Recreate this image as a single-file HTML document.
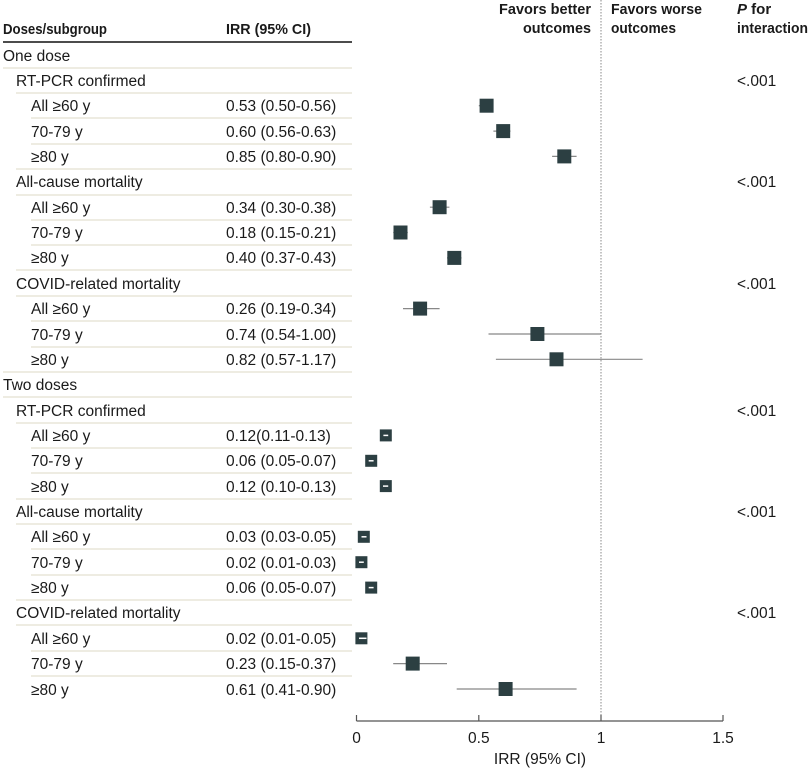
<!DOCTYPE html>
<html><head><meta charset="utf-8"><style>
html,body{margin:0;padding:0;background:#fff}
svg{display:block}
text{font-family:"Liberation Sans",sans-serif;font-size:15.5px;fill:#1a1a1a}
text.b{font-weight:bold;font-size:15px}
</style></head><body>
<svg width="810" height="770" viewBox="0 0 810 770" xmlns="http://www.w3.org/2000/svg">
<text class="b" x="3" y="34" textLength="104" lengthAdjust="spacingAndGlyphs">Doses/subgroup</text>
<text class="b" x="226" y="34" textLength="85" lengthAdjust="spacingAndGlyphs">IRR (95% CI)</text>
<line x1="3" y1="42" x2="352" y2="42" stroke="#111" stroke-width="1.5"/>
<text class="b" x="499" y="14" textLength="92" lengthAdjust="spacingAndGlyphs">Favors better</text>
<text class="b" x="523" y="33" textLength="68" lengthAdjust="spacingAndGlyphs">outcomes</text>
<text class="b" x="611" y="14" textLength="91" lengthAdjust="spacingAndGlyphs">Favors worse</text>
<text class="b" x="611" y="33" textLength="65" lengthAdjust="spacingAndGlyphs">outcomes</text>
<text class="b" x="737" y="14"><tspan font-style="italic">P</tspan> for</text>
<text class="b" x="737" y="33" textLength="71" lengthAdjust="spacingAndGlyphs">interaction</text>
<line x1="601" y1="0" x2="601" y2="721" stroke="#888" stroke-width="1" stroke-dasharray="1.5,1.5"/>
<g stroke="#dcd8c4" stroke-width="1">
<line x1="3" y1="68" x2="352" y2="68"/>
<line x1="16" y1="93" x2="352" y2="93"/>
<line x1="31" y1="118" x2="352" y2="118"/>
<line x1="31" y1="144" x2="352" y2="144"/>
<line x1="16" y1="169" x2="352" y2="169"/>
<line x1="16" y1="195" x2="352" y2="195"/>
<line x1="31" y1="220" x2="352" y2="220"/>
<line x1="31" y1="245" x2="352" y2="245"/>
<line x1="16" y1="270" x2="352" y2="270"/>
<line x1="16" y1="296" x2="352" y2="296"/>
<line x1="31" y1="321" x2="352" y2="321"/>
<line x1="31" y1="347" x2="352" y2="347"/>
<line x1="3" y1="372" x2="352" y2="372"/>
<line x1="3" y1="397" x2="352" y2="397"/>
<line x1="16" y1="423" x2="352" y2="423"/>
<line x1="31" y1="448" x2="352" y2="448"/>
<line x1="31" y1="473" x2="352" y2="473"/>
<line x1="16" y1="499" x2="352" y2="499"/>
<line x1="16" y1="524" x2="352" y2="524"/>
<line x1="31" y1="549" x2="352" y2="549"/>
<line x1="31" y1="575" x2="352" y2="575"/>
<line x1="16" y1="600" x2="352" y2="600"/>
<line x1="16" y1="625" x2="352" y2="625"/>
<line x1="31" y1="651" x2="352" y2="651"/>
<line x1="31" y1="676" x2="352" y2="676"/>
</g>
<text x="3" y="61">One dose</text>
<text x="16" y="86">RT-PCR confirmed</text>
<text x="31" y="111">All ≥60 y</text><text x="226" y="111">0.53 (0.50-0.56)</text>
<text x="31" y="137">70-79 y</text><text x="226" y="137">0.60 (0.56-0.63)</text>
<text x="31" y="162">≥80 y</text><text x="226" y="162">0.85 (0.80-0.90)</text>
<text x="16" y="187">All-cause mortality</text>
<text x="31" y="213">All ≥60 y</text><text x="226" y="213">0.34 (0.30-0.38)</text>
<text x="31" y="238">70-79 y</text><text x="226" y="238">0.18 (0.15-0.21)</text>
<text x="31" y="263">≥80 y</text><text x="226" y="263">0.40 (0.37-0.43)</text>
<text x="16" y="289">COVID-related mortality</text>
<text x="31" y="314">All ≥60 y</text><text x="226" y="314">0.26 (0.19-0.34)</text>
<text x="31" y="340">70-79 y</text><text x="226" y="340">0.74 (0.54-1.00)</text>
<text x="31" y="365">≥80 y</text><text x="226" y="365">0.82 (0.57-1.17)</text>
<text x="3" y="390">Two doses</text>
<text x="16" y="416">RT-PCR confirmed</text>
<text x="31" y="441">All ≥60 y</text><text x="226" y="441">0.12(0.11-0.13)</text>
<text x="31" y="466">70-79 y</text><text x="226" y="466">0.06 (0.05-0.07)</text>
<text x="31" y="492">≥80 y</text><text x="226" y="492">0.12 (0.10-0.13)</text>
<text x="16" y="517">All-cause mortality</text>
<text x="31" y="542">All ≥60 y</text><text x="226" y="542">0.03 (0.03-0.05)</text>
<text x="31" y="568">70-79 y</text><text x="226" y="568">0.02 (0.01-0.03)</text>
<text x="31" y="593">≥80 y</text><text x="226" y="593">0.06 (0.05-0.07)</text>
<text x="16" y="618">COVID-related mortality</text>
<text x="31" y="644">All ≥60 y</text><text x="226" y="644">0.02 (0.01-0.05)</text>
<text x="31" y="669">70-79 y</text><text x="226" y="669">0.23 (0.15-0.37)</text>
<text x="31" y="695">≥80 y</text><text x="226" y="695">0.61 (0.41-0.90)</text>
<text x="737" y="86">&lt;.001</text>
<text x="737" y="187">&lt;.001</text>
<text x="737" y="289">&lt;.001</text>
<text x="737" y="416">&lt;.001</text>
<text x="737" y="517">&lt;.001</text>
<text x="737" y="618">&lt;.001</text>
<g stroke="#888" stroke-width="1.2">
<line x1="478.8" y1="105.7" x2="493.4" y2="105.7"/>
<line x1="493.4" y1="131.1" x2="510.5" y2="131.1"/>
<line x1="552.1" y1="156.4" x2="576.6" y2="156.4"/>
<line x1="429.9" y1="207.2" x2="449.4" y2="207.2"/>
<line x1="393.2" y1="232.5" x2="407.8" y2="232.5"/>
<line x1="447" y1="257.9" x2="461.6" y2="257.9"/>
<line x1="403" y1="308.6" x2="439.6" y2="308.6"/>
<line x1="488.5" y1="334" x2="601" y2="334"/>
<line x1="495.9" y1="359.3" x2="642.6" y2="359.3"/>
<line x1="393.2" y1="663.6" x2="447" y2="663.6"/>
<line x1="456.7" y1="689" x2="576.6" y2="689"/>
</g>
<g fill="#2c3f42">
<rect x="479.6" y="98.7" width="14" height="14"/>
<rect x="496.2" y="124.1" width="14" height="14"/>
<rect x="557.3" y="149.4" width="14" height="14"/>
<rect x="432.6" y="200.2" width="14" height="14"/>
<rect x="393.5" y="225.5" width="14" height="14"/>
<rect x="447.3" y="250.9" width="14" height="14"/>
<rect x="413.1" y="301.6" width="14" height="14"/>
<rect x="530.4" y="327" width="14" height="14"/>
<rect x="549.5" y="352.3" width="14" height="14"/>
<rect x="379.8" y="429.4" width="12" height="12"/>
<rect x="365.2" y="454.8" width="12" height="12"/>
<rect x="379.8" y="480.1" width="12" height="12"/>
<rect x="357.8" y="530.8" width="12" height="12"/>
<rect x="355.4" y="556.2" width="12" height="12"/>
<rect x="365.2" y="581.6" width="12" height="12"/>
<rect x="355.4" y="632.3" width="12" height="12"/>
<rect x="405.7" y="656.6" width="14" height="14"/>
<rect x="498.6" y="682" width="14" height="14"/>
</g>
<g stroke="#fff" stroke-width="1.5">
<line x1="383.4" y1="435.4" x2="388.2" y2="435.4"/>
<line x1="368.7" y1="460.8" x2="373.6" y2="460.8"/>
<line x1="383" y1="486.1" x2="388.2" y2="486.1"/>
<line x1="361.5" y1="536.8" x2="366.5" y2="536.8"/>
<line x1="359" y1="562.2" x2="363.8" y2="562.2"/>
<line x1="368.7" y1="587.6" x2="373.6" y2="587.6"/>
<line x1="359" y1="638.3" x2="366.5" y2="638.3"/>
</g>
<g stroke="#555" stroke-width="1.2">
<line x1="356.5" y1="721" x2="723" y2="721"/>
<line x1="356.5" y1="715" x2="356.5" y2="721"/>
<line x1="478.8" y1="715" x2="478.8" y2="721"/>
<line x1="601" y1="715" x2="601" y2="721"/>
<line x1="723" y1="715" x2="723" y2="721"/>
</g>
<text x="356.5" y="743" text-anchor="middle">0</text>
<text x="478.8" y="743" text-anchor="middle">0.5</text>
<text x="601" y="743" text-anchor="middle">1</text>
<text x="723" y="743" text-anchor="middle">1.5</text>
<text x="540" y="764" text-anchor="middle">IRR (95% CI)</text>
</svg>
</body></html>
